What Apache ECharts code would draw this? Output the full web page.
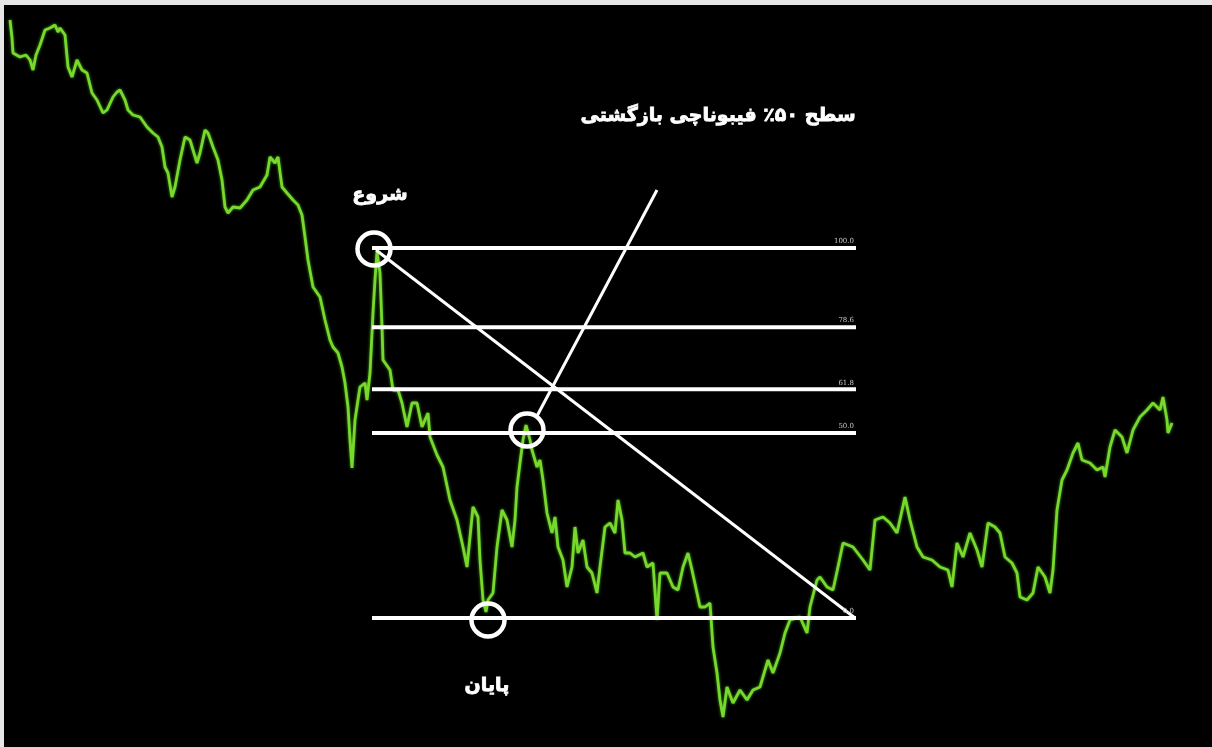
<!DOCTYPE html>
<html lang="fa">
<head>
    <meta charset="UTF-8">
    <title>سطح ۵۰٪ فیبوناچی بازگشتی</title>
    <script src="https://cdn.jsdelivr.net/npm/echarts@6/dist/echarts.min.js"></script>
    <style>
        html, body {
            margin: 0;
            padding: 0;
            background: #ffffff;
        }
        #chart {
            width: 1212px;
            height: 747px;
            box-sizing: border-box;
            border-left: 4px solid #e6e6e6;
            border-top: 5px solid #e6e6e6;
            background: #000000;
        }
    </style>
</head>
<body>
    <div id="chart"></div>
    <script>
        // price path (bar number, price in points)
        var bars = [10, 12, 13, 20, 26, 30, 33, 36, 40, 45, 50, 55, 58, 60, 65, 68, 72, 77, 82, 87,
            92, 97, 103, 107, 113, 117, 120, 125, 128, 133, 140, 147, 153, 158, 162, 165, 168, 172, 175, 180,
            185, 190, 193, 197, 200, 205, 208, 213, 218, 222, 225, 228, 233, 240, 247, 253, 260, 267, 270, 275,
            278, 282, 287, 293, 298, 302, 305, 308, 313, 320, 325, 330, 333, 338, 342, 345, 348, 350, 352, 355,
            358, 360, 365, 367, 370, 373, 375, 377, 380, 382, 383, 390, 393, 398, 402, 407, 412, 417, 422, 428,
            430, 437, 443, 450, 457, 463, 467, 473, 478, 480, 483, 486, 488, 493, 497, 502, 507, 512, 515, 517,
            520, 523, 526, 530, 532, 537, 540, 543, 547, 552, 555, 558, 563, 567, 572, 575, 578, 583, 587, 592,
            597, 600, 605, 610, 615, 618, 622, 625, 630, 635, 643, 647, 653, 657, 660, 667, 673, 678, 683, 688,
            692, 697, 700, 705, 710, 713, 717, 720, 723, 727, 733, 740, 747, 753, 760, 768, 773, 780, 785, 790,
            800, 807, 810, 817, 820, 827, 833, 838, 843, 853, 863, 870, 875, 883, 890, 897, 905, 910, 917, 923,
            932, 940, 948, 952, 957, 963, 970, 977, 982, 988, 995, 1000, 1005, 1012, 1017, 1020, 1027, 1033, 1038, 1045,
            1050, 1053, 1057, 1062, 1067, 1073, 1078, 1082, 1090, 1097, 1103, 1105, 1110, 1115, 1122, 1127, 1133, 1140, 1147, 1153,
            1160, 1163, 1167, 1168, 1172];
        var prices = [730, 712, 697, 693, 695, 690, 680, 695, 705, 720, 722, 725, 718, 722, 715, 683, 673, 690, 680, 677,
            657, 650, 637, 640, 653, 658, 660, 650, 640, 635, 633, 623, 617, 613, 603, 583, 577, 553, 563, 590,
            613, 610, 600, 587, 597, 620, 617, 603, 590, 570, 543, 537, 543, 542, 550, 560, 563, 575, 593, 587,
            593, 563, 557, 550, 545, 535, 513, 490, 463, 453, 430, 410, 403, 397, 383, 367, 343, 310, 282, 330,
            350, 363, 367, 350, 377, 437, 470, 498, 477, 423, 390, 380, 360, 360, 347, 323, 347, 347, 323, 337,
            313, 295, 283, 250, 230, 203, 183, 243, 233, 190, 150, 138, 150, 157, 203, 240, 230, 203, 230, 263,
            287, 310, 325, 310, 300, 283, 290, 270, 237, 217, 233, 203, 190, 163, 183, 223, 197, 210, 183, 177,
            157, 183, 223, 227, 217, 250, 230, 197, 197, 193, 197, 183, 187, 130, 177, 177, 163, 160, 183, 197,
            180, 157, 143, 143, 147, 103, 77, 50, 33, 63, 47, 60, 50, 60, 63, 90, 77, 97, 117, 130,
            133, 117, 143, 170, 173, 163, 160, 183, 207, 203, 190, 180, 230, 233, 227, 217, 253, 230, 203, 193,
            190, 183, 180, 163, 207, 193, 217, 200, 183, 227, 223, 217, 193, 187, 177, 153, 150, 157, 183, 173,
            157, 180, 240, 270, 280, 297, 307, 290, 287, 280, 283, 273, 303, 320, 313, 297, 320, 333, 340, 347,
            340, 353, 330, 317, 327];

        // fibonacci retracement drawn from the swing high to the swing low
        var fibHigh = 502;
        var fibLow = 132;
        var fibFromBar = 372;
        var fibToBar = 856;
        var fibRatios = [0, 0.5, 0.618, 0.786, 1];
        var fibTexts = ['0.0', '50.0', '61.8', '78.6', '100.0'];

        // annotations
        var swingLine = [[376, 500], [855, 132]];
        var pointerLine = [[537, 334], [657, 560]];
        var circlePoints = [[374, 501], [527, 320], [488, 130]];
        var startText = 'شروع';
        var startPos = [380, 555];
        var endText = 'پایان';
        var endPos = [487, 64];
        var titleText = 'سطح ۵۰٪ فیبوناچی بازگشتی';
        var titlePos = [718, 634];

        var chart = echarts.init(document.getElementById('chart'));

        var priceData = bars.map(function (b, i) { return [b, prices[i]]; });

        var white = '#ffffff';
        var series = [];

        series.push({
            name: 'price',
            type: 'line',
            data: priceData,
            symbol: 'none',
            z: 2,
            lineStyle: {
                color: '#78d82c',
                width: 2.8,
                shadowColor: 'rgba(90,200,30,0.8)',
                shadowBlur: 3
            }
        });

        fibRatios.forEach(function (r, i) {
            var level = fibLow + r * (fibHigh - fibLow);
            series.push({
                name: 'fib ' + fibTexts[i],
                type: 'line',
                data: [[fibFromBar, level], [fibToBar, level]],
                symbol: 'none',
                z: 3,
                lineStyle: { color: white, width: 4 }
            });
        });

        series.push({
            name: 'fibLabels',
            type: 'scatter',
            symbolSize: 0,
            z: 4,
            data: fibRatios.map(function (r, i) {
                return { value: [fibToBar - 2, fibLow + r * (fibHigh - fibLow)], name: fibTexts[i] };
            }),
            itemStyle: { opacity: 1 },
            label: {
                show: true,
                position: 'top',
                align: 'right',
                distance: 3,
                formatter: '{b}',
                color: '#c8c8c8',
                fontSize: 7,
                fontFamily: 'DejaVu Serif'
            }
        });

        series.push({
            name: 'swing',
            type: 'line',
            data: swingLine,
            symbol: 'none',
            z: 3,
            lineStyle: { color: white, width: 3 }
        });

        series.push({
            name: 'pointer',
            type: 'line',
            data: pointerLine,
            symbol: 'none',
            z: 3,
            lineStyle: { color: white, width: 3 }
        });

        series.push({
            name: 'circles',
            type: 'scatter',
            data: circlePoints,
            symbol: 'circle',
            symbolSize: 33,
            z: 5,
            itemStyle: {
                color: 'rgba(0,0,0,0)',
                borderColor: white,
                borderWidth: 4.5,
                opacity: 1
            }
        });

        series.push({
            name: 'texts',
            type: 'scatter',
            symbolSize: 0,
            z: 6,
            data: [
                { value: startPos, name: startText },
                { value: endPos, name: endText },
                { value: titlePos, name: titleText }
            ],
            itemStyle: { opacity: 1 },
            label: {
                show: true,
                position: 'inside',
                formatter: '{b}',
                color: white,
                fontSize: 19,
                fontWeight: 'bold',
                fontFamily: 'DejaVu Sans',
                textBorderColor: white,
                textBorderWidth: 0.8
            }
        });

        var option = {
            backgroundColor: '#000000',
            animation: false,
            grid: { left: 0, right: 0, top: 0, bottom: 0 },
            xAxis: {
                type: 'value',
                min: 4,
                max: 1212,
                show: false
            },
            yAxis: {
                type: 'value',
                min: 3,
                max: 745,
                show: false
            },
            series: series
        };

        chart.setOption(option);
    </script>
</body>
</html>
